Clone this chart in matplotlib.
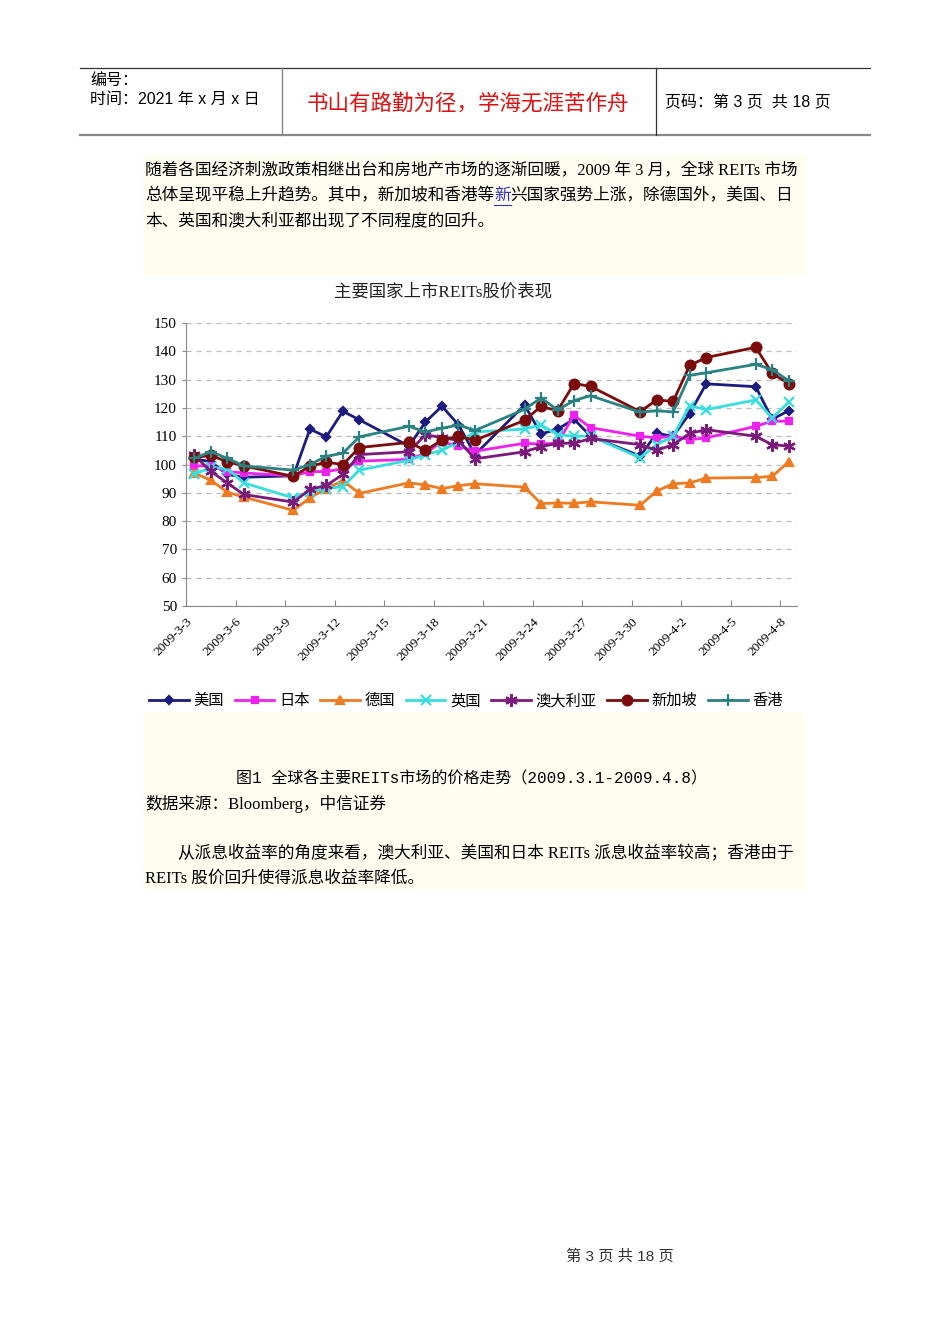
import matplotlib
matplotlib.use('Agg')
import matplotlib.pyplot as plt
from matplotlib.patches import Rectangle
from matplotlib.lines import Line2D
import pandas as pd

W, H = 950, 1344

# trading days shown in the chart
days = ['2009-3-3', '2009-3-4', '2009-3-5', '2009-3-6', '2009-3-9', '2009-3-10',
        '2009-3-11', '2009-3-12', '2009-3-13', '2009-3-16', '2009-3-17', '2009-3-18',
        '2009-3-19', '2009-3-20', '2009-3-23', '2009-3-24', '2009-3-25', '2009-3-26',
        '2009-3-27', '2009-3-30', '2009-3-31', '2009-4-1', '2009-4-2', '2009-4-3',
        '2009-4-6', '2009-4-7', '2009-4-8']

us = [102, 101, 96.5, 95.5, 96, 112.5, 109.8, 118.8, 115.8, 106.5, 115, 120.6, 114,
      103.5, 121, 110.8, 112.5, 116, 110, 103, 111, 110, 118, 128.5, 127.5, 116, 119]
jp = [99.5, 99.5, 97.5, 97, 96, 97.5, 97.5, 98.5, 101.2, 101.8, 104, 108, 106.5,
      104.7, 107.5, 107.2, 107.6, 117.4, 113, 110, 109.4, 110, 108.8, 109.4, 113.5,
      115.3, 115.3]
de = [97, 94.5, 90.2, 88.5, 83.8, 88.2, 91.5, 94.3, 89.8, 93.5, 92.8, 91.5, 92.5,
      93.2, 92, 86.2, 86.4, 86.3, 86.8, 85.6, 90.6, 93.2, 93.5, 95.2, 95.4, 95.8, 101]
uk = [96.5, 99, 98.5, 93.5, 88.2, 90.3, 91.5, 92.2, 98, 101.5, 103.5, 105, 108,
      111.5, 112.5, 114, 110.5, 110, 110, 102.4, 107, 110, 120.8, 119.4, 122.8, 116.5, 122]
au = [103.2, 97.6, 93.5, 89.4, 86.7, 91.2, 92.6, 96.5, 103.5, 104.5, 110.5, 109.5,
      108.5, 102, 104.5, 106.3, 107.5, 107.5, 109.2, 107, 105, 107, 111, 112.3, 110,
      107, 106.5]
sg = [102.5, 103.2, 101, 99.5, 95.8, 99.4, 100.8, 100, 106, 107.8, 105, 108.6, 110,
      108.6, 115.6, 120.5, 119, 128.6, 127.6, 118.7, 122.8, 122.3, 135, 137.8, 141.4,
      132.2, 128.5]
hk = [102.2, 104.5, 102.2, 99.5, 98, 100, 102.9, 104, 109.8, 113.5, 111.5, 112.8, 114,
      112, 119.5, 123.5, 119.3, 122.6, 124.3, 118.5, 119, 118.6, 131.5, 132.4, 135.4,
      133.5, 129.6]

names = ['美国', '日本', '德国', '英国', '澳大利亚', '新加坡', '香港']
series = [us, jp, de, uk, au, sg, hk]
colors = ['#1c1c7e', '#ee22ee', '#ee7a22', '#38dede', '#7c1a7c', '#7a0c0c', '#2a8282']
markers = ['D', 's', '^', 'x', (6, 2, 0), 'o', '+']
msizes = [4, 5, 6, 7, 9, 7, 9]

serif = ['Liberation Serif', 'Noto Sans CJK SC']
sans = ['Liberation Sans', 'Noto Sans CJK SC']
mono = ['Liberation Mono', 'Noto Sans CJK SC']
plt.rcParams['font.family'] = serif

fig = plt.figure(figsize=(W / 100, H / 100), dpi=100)
fig.patch.set_facecolor('white')


def fx(x):
    return x / W


def fy(y):
    return 1 - y / H


def put(x, y, s, **kw):
    kw.setdefault('va', 'center')
    return fig.text(fx(x), fy(y), s, **kw)


def hline(x0, x1, y, **kw):
    fig.add_artist(Line2D([fx(x0), fx(x1)], [fy(y), fy(y)], transform=fig.transFigure, **kw))


def vline(x, y0, y1, **kw):
    fig.add_artist(Line2D([fx(x), fx(x)], [fy(y0), fy(y1)], transform=fig.transFigure, **kw))


# header table
hline(80, 870, 68, color='#333333', lw=0.9)
hline(80, 870, 135, color='#888888', lw=1.6)
vline(282, 68, 135, color='#888888', lw=1.0)
vline(656, 68, 135, color='#333333', lw=0.9)
put(90, 80, '编号：', fontsize=11.5, family=sans)
put(90, 99, '时间：2021 年 x 月 x 日', fontsize=11.5, family=sans)
put(468, 104, '书山有路勤为径，学海无涯苦作舟', fontsize=15.5, family=sans,
    color='#e01010', ha='center', weight='medium')
put(665, 103, '页码：第 3 页  共 18 页', fontsize=11.5, family=sans)

# pale yellow text block, white chart picture on top of it
fig.add_artist(Rectangle((fx(143), fy(890)), fx(806) - fx(143), (890 - 155) / H,
                         transform=fig.transFigure, facecolor='#fffcf0', edgecolor='none',
                         zorder=-10))
fig.add_artist(Rectangle((fx(143), fy(712)), fx(806) - fx(143), (712 - 275) / H,
                         transform=fig.transFigure, facecolor='white', edgecolor='none',
                         zorder=-9))

fs = 12
put(145, 171, '随着各国经济刺激政策相继出台和房地产市场的逐渐回暖，2009 年 3 月，全球 REITs 市场',
    fontsize=fs)
r = fig.canvas.get_renderer()
t = put(145, 196, '总体呈现平稳上升趋势。其中，新加坡和香港等', fontsize=fs)
x1 = t.get_window_extent(r).x1
t = put(x1, 196, '新', fontsize=fs, color='#3333bb')
bb = t.get_window_extent(r)
hline(bb.x0, bb.x1, 205, color='#3333bb', lw=0.8)
put(bb.x1, 196, '兴国家强势上涨，除德国外，美国、日', fontsize=fs)
put(145, 221, '本、英国和澳大利亚都出现了不同程度的回升。', fontsize=fs)

# chart
put(443, 292, '主要国家上市REITs股价表现', fontsize=12.5, ha='center', color='#222222')

ax = fig.add_axes([fx(186), fy(606), (797 - 186) / W, (606 - 323) / H])
ax.patch.set_alpha(0)
x = pd.to_datetime(days) + pd.Timedelta(hours=12)
for name, vals, c, m, ms in zip(names, series, colors, markers, msizes):
    ax.plot(x, vals, color=c, lw=2, marker=m, ms=ms, mew=1.6, label=name)

ax.set_ylim(50, 150)
ax.set_yticks(range(50, 151, 10))
ax.set_xlim(pd.Timestamp('2009-03-03'), pd.Timestamp('2009-04-09'))
ticks = pd.date_range('2009-03-03', '2009-04-08', freq='3D')
ax.set_xticks(ticks)
ax.set_xticklabels([f'{d.year}-{d.month}-{d.day}' for d in ticks], rotation=45,
                   ha='right', rotation_mode='anchor', fontsize=9.5)
ax.tick_params(axis='x', direction='in', length=4, color='#888888', pad=7)
ax.tick_params(axis='y', length=3, color='#888888', labelsize=11)
ax.grid(axis='y', ls=(0, (4, 4)), color='#bbbbbb', lw=0.9)
ax.set_axisbelow(True)
for s in ['top', 'right']:
    ax.spines[s].set_visible(False)
for s in ['left', 'bottom']:
    ax.spines[s].set_color('#888888')

fig.legend(loc='center', bbox_to_anchor=(fx(466), fy(701)), ncol=7, frameon=False,
           handlelength=2.6, columnspacing=0.7, handletextpad=0.3, prop={'size': 11})

# caption and following text
put(472, 779, '图1 全球各主要REITs市场的价格走势（2009.3.1-2009.4.8）', fontsize=11.5,
    ha='center', family=mono)
put(145, 804, '数据来源：Bloomberg，中信证券', fontsize=fs)
put(178, 854, '从派息收益率的角度来看，澳大利亚、美国和日本 REITs 派息收益率较高；香港由于',
    fontsize=fs)
put(145, 879, 'REITs 股价回升使得派息收益率降低。', fontsize=fs)

put(620, 1256, '第 3 页 共 18 页', fontsize=11, family=sans, ha='center', color='#333333')

fig.savefig('out.png', dpi=100)
